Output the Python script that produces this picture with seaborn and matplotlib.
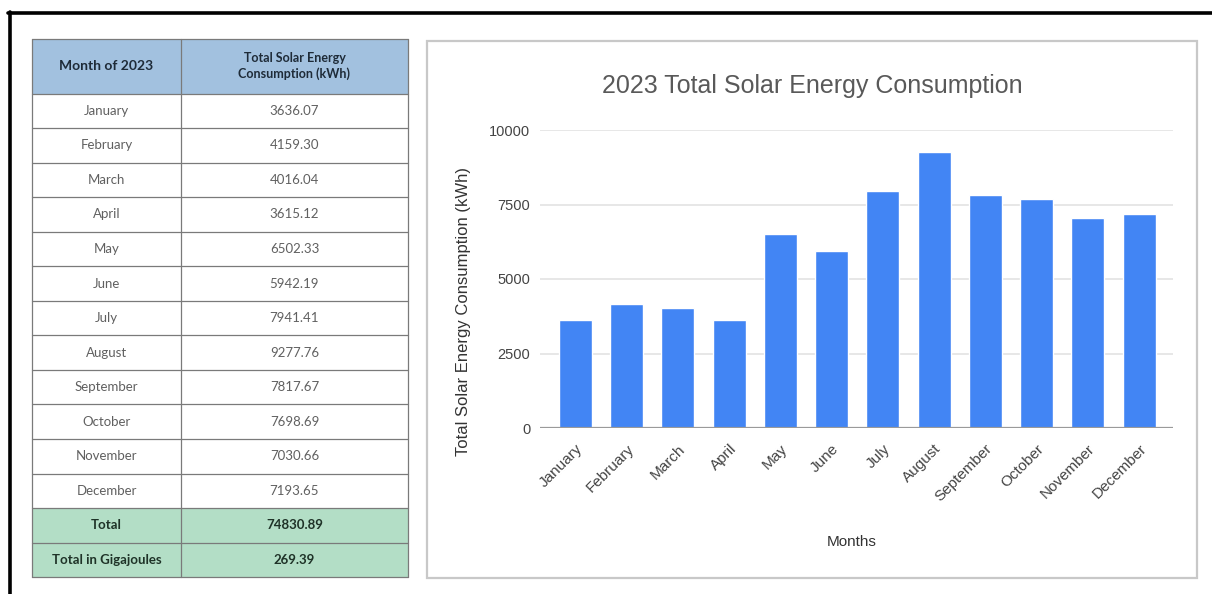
import matplotlib
matplotlib.use("Agg")
import matplotlib.pyplot as plt
from matplotlib.patches import Rectangle
from matplotlib.lines import Line2D
import seaborn as sns
import pandas as pd

# ---------------- data ----------------
months = ["January", "February", "March", "April", "May", "June", "July",
          "August", "September", "October", "November", "December"]
consumption_kwh = [3636.07, 4159.30, 4016.04, 3615.12, 6502.33, 5942.19,
                   7941.41, 9277.76, 7817.67, 7698.69, 7030.66, 7193.65]
total_kwh = 74830.89
total_gj = 269.39
table_headers = ["Month of 2023", "Total Solar Energy\nConsumption (kWh)"]
summary_labels = ["Total", "Total in Gigajoules"]
summary_values = [total_kwh, total_gj]
yticks = [0, 2500, 5000, 7500, 10000]
ytick_labels = ["0", "2500", "5000", "7500", "10000"]
chart_title = "2023 Total Solar Energy Consumption"
x_title = "Months"
y_title = "Total Solar Energy Consumption (kWh)"

df = pd.DataFrame({"Month": months, "kWh": consumption_kwh})

# ---------------- figure ----------------
sns.set_theme(style="white")
plt.rcParams["font.family"] = ["Liberation Sans", "DejaVu Sans"]

W, H = 1212, 594
fig = plt.figure(figsize=(W / 100, H / 100), dpi=100)
fig.patch.set_facecolor("white")

# overlay axes in pixel coordinates (for table, frames)
bg = fig.add_axes([0, 0, 1, 1], zorder=0)
bg.set_xlim(0, W)
bg.set_ylim(H, 0)
bg.axis("off")

# black page frame lines
bg.add_line(Line2D([8, W], [12.5, 12.5], color="black", lw=2.6))
bg.add_line(Line2D([9.5, 9.5], [12, H], color="black", lw=2.6))

# chart panel border
bg.add_patch(Rectangle((426.5, 40.5), 770, 537.5, fill=False,
                       edgecolor="#c8c8c8", lw=1.6))

# ---------------- table ----------------
tab_font = ["Lato", "DejaVu Sans"]
x0, xmid, x1 = 32, 181, 408
head_top, head_bot = 38.5, 93.5
row_h = 34.55
header_fill = "#a2c1df"
sum_fill = "#b3dec6"
line_col = "#7a7a7a"
cell_txt = "#606060"

# header
bg.add_patch(Rectangle((x0, head_top), x1 - x0, head_bot - head_top,
                       facecolor=header_fill, edgecolor="none"))
bg.text((x0 + xmid) / 2, (head_top + head_bot) / 2, table_headers[0],
        ha="center", va="center", fontsize=10, fontweight="bold",
        color="#1e2b38", family=tab_font)
bg.text((xmid + x1) / 2, (head_top + head_bot) / 2, table_headers[1],
        ha="center", va="center", fontsize=9, fontweight="bold",
        color="#1e2b38", family=tab_font, linespacing=1.25)

y = head_bot
for m, v in zip(months, consumption_kwh):
    bg.text((x0 + xmid) / 2, y + row_h / 2, m, ha="center", va="center",
            fontsize=9.5, color=cell_txt, family=tab_font)
    bg.text((xmid + x1) / 2, y + row_h / 2, f"{v:.2f}", ha="center",
            va="center", fontsize=9.5, color=cell_txt, family=tab_font)
    y += row_h
    bg.add_line(Line2D([x0, x1], [y, y], color=line_col, lw=0.9))
for lab, v in zip(summary_labels, summary_values):
    bg.add_patch(Rectangle((x0, y), x1 - x0, row_h, facecolor=sum_fill,
                           edgecolor="none"))
    bg.text((x0 + xmid) / 2, y + row_h / 2, lab, ha="center", va="center",
            fontsize=9.5, fontweight="bold", color="#1f3328", family=tab_font)
    bg.text((xmid + x1) / 2, y + row_h / 2, f"{v:.2f}", ha="center",
            va="center", fontsize=9.5, fontweight="bold", color="#1f3328",
            family=tab_font)
    y += row_h
    bg.add_line(Line2D([x0, x1], [y, y], color=line_col, lw=0.9))
tab_bottom = y
bg.add_line(Line2D([x0, x1], [head_top, head_top], color=line_col, lw=0.9))
bg.add_line(Line2D([x0, x1], [head_bot, head_bot], color=line_col, lw=0.9))
for xx in (x0, xmid, x1):
    bg.add_line(Line2D([xx, xx], [head_top, tab_bottom], color=line_col, lw=0.9))

# ---------------- chart ----------------
ax_l, ax_r, ax_t, ax_b = 540, 1173, 130, 428
ax = fig.add_axes([ax_l / W, (H - ax_b) / H, (ax_r - ax_l) / W, (ax_b - ax_t) / H],
                  zorder=2)
ax.patch.set_alpha(0)

sns.barplot(data=df, x="Month", y="kWh", color="#4285F4", saturation=1,
            width=0.645, ax=ax, zorder=3)

ax.set_xlim(-0.69, 11.66)
ax.set_ylim(0, 10000)
ax.set_yticks(yticks)
ax.set_yticklabels(ytick_labels)
for t in yticks[1:]:
    ax.axhline(t, color="#e3e3e3", lw=1.2, zorder=1)
ax.axhline(0, color="#9a9a9a", lw=1.6, zorder=4)
for s in ax.spines.values():
    s.set_visible(False)
ax.tick_params(axis="both", length=0, colors="#444444", labelsize=10.5)
ax.tick_params(axis="y", pad=7)
ax.tick_params(axis="x", pad=10)
for lbl in ax.get_xticklabels():
    lbl.set_rotation(45)
    lbl.set_ha("right")
    lbl.set_rotation_mode("anchor")
    lbl.set_fontsize(11)
    lbl.set_color("#444444")

ax.set_xlabel(x_title, fontsize=11, color="#333333")
ax.xaxis.set_label_coords((852 - ax_l) / (ax_r - ax_l), -(535 - ax_b) / (ax_b - ax_t))
ax.set_ylabel(y_title, fontsize=12, color="#333333")
ax.yaxis.set_label_coords(-(ax_l - 471) / (ax_r - ax_l), (ax_b - 311) / (ax_b - ax_t))

fig.text(812 / W, 1 - 86 / H, chart_title, ha="center", va="center",
         fontsize=18, color="#595959")

fig.savefig("out.png", dpi=100, facecolor="white")
